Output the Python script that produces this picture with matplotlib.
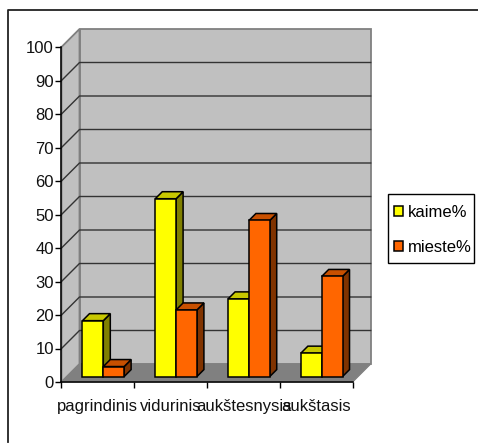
import matplotlib

matplotlib.use("Agg")
import matplotlib.pyplot as plt
from matplotlib.patches import Polygon, Rectangle

categories = ["pagrindinis", "vidurinis", "aukštesnysis", "aukštasis"]
kaime = [16.7, 53.1, 23.2, 7.0]
mieste = [3.0, 19.9, 46.6, 29.9]
y_ticks = list(range(0, 101, 10))

W, H = 478, 443
FONT, SIZE = "Liberation Sans", 12

# front plane of the fake 3d box, in pixels
LEFT, RIGHT, TOP, BOTTOM = 61.5, 352.7, 47.0, 382.0
DEPTH_X, DEPTH_Y = 18.0, 18.0
BAR_FRONT, BAR_BACK = 5.4, 12.4
BAR_W = 0.286

GREY_WALL = "#c0c0c0"
GREY_EDGE = "#808080"

fig = plt.figure(figsize=(W / 100, H / 100), dpi=100, facecolor="white")

# chart border, only top and left survive in the reference
fig.add_artist(plt.Line2D([8 / W, 8 / W, 1], [1 - 442 / H, 1 - 9.5 / H, 1 - 9.5 / H],
                          transform=fig.transFigure, color="#222222", linewidth=1.3, zorder=-1))

ax = fig.add_axes([LEFT / W, 1 - BOTTOM / H, (RIGHT - LEFT) / W, (BOTTOM - TOP) / H])
ax.set_xlim(0, len(categories))
ax.set_ylim(0, 100)
ax.patch.set_visible(False)

px_x = (RIGHT - LEFT) / len(categories)
px_y = (BOTTOM - TOP) / 100


def shift(x, y, depth):
    """Move a data point back into the box by depth pixels."""
    frac = depth / DEPTH_X
    return x + frac * DEPTH_X / px_x, y + frac * DEPTH_Y / px_y


def poly(points, color, edge, lw=1.0, z=1):
    ax.add_patch(Polygon(points, closed=True, facecolor=color, edgecolor=edge, linewidth=lw,
                         zorder=z, clip_on=False, joinstyle="miter"))


n = len(categories)
# back wall, side wall, floor
poly([shift(0, 0, DEPTH_X), shift(n, 0, DEPTH_X), shift(n, 100, DEPTH_X), shift(0, 100, DEPTH_X)],
     GREY_WALL, GREY_EDGE, 1.3, 1)
poly([(0, 0), shift(0, 0, DEPTH_X), shift(0, 100, DEPTH_X), (0, 100)], GREY_WALL, GREY_EDGE, 1.3, 1)
poly([(0, 0), (n, 0), shift(n, 0, DEPTH_X), shift(0, 0, DEPTH_X)], GREY_EDGE, GREY_EDGE, 0.8, 1.5)

# gridlines on both walls
for v in y_ticks[1:-1]:
    xs, ys = zip((0, v), shift(0, v, DEPTH_X), shift(n, v, DEPTH_X))
    ax.plot(xs, ys, color="#333333", linewidth=1.0, zorder=2, clip_on=False)


def bar3d(x0, value, front, top, side):
    x1 = x0 + BAR_W
    # right side face, then top face, then front
    poly([shift(x1, 0, BAR_FRONT), shift(x1, 0, BAR_BACK), shift(x1, value, BAR_BACK),
          shift(x1, value, BAR_FRONT)], side, "black", 1.1, 3)
    poly([shift(x0, value, BAR_FRONT), shift(x1, value, BAR_FRONT), shift(x1, value, BAR_BACK),
          shift(x0, value, BAR_BACK)], top, "black", 1.1, 3)
    poly([shift(x0, 0, BAR_FRONT), shift(x1, 0, BAR_FRONT), shift(x1, value, BAR_FRONT),
          shift(x0, value, BAR_FRONT)], front, "black", 1.1, 3)


for i in range(n):
    center = i + 0.5
    bar3d(center - BAR_W, kaime[i], "#ffff00", "#c8c800", "#808000")
    bar3d(center, mieste[i], "#ff6600", "#c85000", "#803300")

ax.set_xticks(range(n + 1))
ax.set_xticklabels([])
ax.set_yticks(y_ticks)
ax.set_yticklabels([str(v) for v in y_ticks], fontname=FONT, fontsize=SIZE, color="#111111")
ax.tick_params(axis="both", direction="out", length=4, width=1.0, color="black", pad=1.5)
for name in ("top", "right"):
    ax.spines[name].set_visible(False)
for name in ("left", "bottom"):
    ax.spines[name].set_linewidth(1.1)
    ax.spines[name].set_zorder(2.5)

# category labels sit in the middle of each slot, they overlap like the original
for i, label in enumerate(categories):
    ax.annotate(label, xy=(i + 0.5, 0), xytext=(0, -12.5), textcoords="offset points",
                ha="center", va="top", fontname=FONT, fontsize=SIZE, color="#111111",
                annotation_clip=False)

# legend frame is drawn apart, a real legend frame will not take this padding
fig.add_artist(Rectangle((387.5 / W, 1 - 263 / H), 86.5 / W, 69.5 / H, transform=fig.transFigure,
                         facecolor="white", edgecolor="black", linewidth=1.0))
handles = [Rectangle((0, 0), 1, 1, facecolor="#ffff00", edgecolor="black", linewidth=1.1),
           Rectangle((0, 0), 1, 1, facecolor="#ff6600", edgecolor="black", linewidth=1.1)]
fig.legend(handles, ["kaime%", "mieste%"], loc="upper left", bbox_to_anchor=(387.5 / W, 1 - 198 / H),
           borderaxespad=0, frameon=False, prop={"family": FONT, "size": SIZE},
           handlelength=0.5, handleheight=0.6, handletextpad=0.35, labelspacing=1.2, borderpad=0.4)

fig.savefig("out.png", dpi=100)
